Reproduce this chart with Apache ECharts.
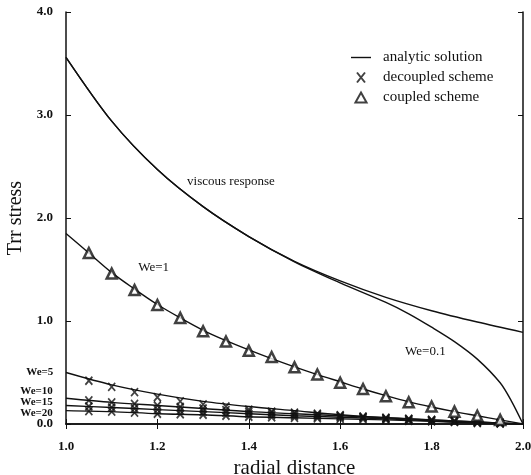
<!DOCTYPE html>
<html>
<head>
	<meta charset="utf-8">
	<script src="https://cdn.jsdelivr.net/npm/echarts@6/dist/echarts.min.js"></script>
	<title>Trr stress</title>
</head>
<body>

<style>
	html, body { margin: 0; padding: 0; background: #fff; }
	#main { width: 531px; height: 475px; }
</style>

<div id="main"></div>

<script type="text/javascript">
    // radial positions
    var rCoarse = [1.0, 1.1, 1.2, 1.3, 1.4, 1.5, 1.6, 1.7, 1.8, 1.9, 2.0];
    var rFine = [1.0, 1.05, 1.1, 1.15, 1.2, 1.25, 1.3, 1.35, 1.4, 1.45, 1.5,
                 1.55, 1.6, 1.65, 1.7, 1.75, 1.8, 1.85, 1.9, 1.95, 2.0];
    var rMarks = rFine.slice(1, 20);
    var rWe01 = [1.0, 1.1, 1.2, 1.3, 1.4, 1.5, 1.6, 1.7, 1.75, 1.8, 1.85, 1.9, 1.95, 1.975, 2.0];

    // analytic solution curves
    var viscous = [3.56, 2.94, 2.47, 2.11, 1.82, 1.58, 1.39, 1.23, 1.10, 0.99, 0.89];
    var we01 = [3.56, 2.94, 2.47, 2.11, 1.82, 1.575, 1.37, 1.18, 1.07, 0.94, 0.80, 0.63, 0.40, 0.22, 0];
    var we1 = [1.85, 1.66, 1.47, 1.31, 1.16, 1.03, 0.91, 0.81, 0.72, 0.635, 0.555,
               0.48, 0.41, 0.34, 0.275, 0.215, 0.165, 0.12, 0.08, 0.04, 0];
    var we5 = [0.50, 0.38, 0.29, 0.22, 0.17, 0.13, 0.09, 0.06, 0.04, 0.02, 0];
    var we10 = [0.25, 0.21, 0.18, 0.15, 0.12, 0.10, 0.08, 0.06, 0.04, 0.02, 0];
    var we15 = [0.18, 0.16, 0.14, 0.12, 0.10, 0.08, 0.065, 0.05, 0.03, 0.015, 0];
    var we20 = [0.13, 0.12, 0.10, 0.09, 0.07, 0.06, 0.05, 0.04, 0.025, 0.01, 0];

    // coupled scheme (We=1)
    var coupled1 = [1.66, 1.46, 1.30, 1.155, 1.03, 0.90, 0.80, 0.71, 0.65, 0.55,
                    0.48, 0.40, 0.34, 0.27, 0.21, 0.17, 0.12, 0.08, 0.04];
    // decoupled scheme
    var dec5 = [0.42, 0.36, 0.31, 0.26, 0.22, 0.19, 0.17, 0.14, 0.12, 0.11,
                0.10, 0.085, 0.07, 0.06, 0.05, 0.04, 0.03, 0.02, 0.01];
    var dec10 = [0.23, 0.21, 0.195, 0.18, 0.165, 0.15, 0.135, 0.12, 0.11, 0.10,
                 0.09, 0.08, 0.07, 0.06, 0.05, 0.04, 0.03, 0.02, 0.01];
    var dec15 = [0.17, 0.16, 0.15, 0.14, 0.13, 0.12, 0.11, 0.10, 0.09, 0.08,
                 0.07, 0.065, 0.06, 0.05, 0.04, 0.03, 0.02, 0.015, 0.01];
    var dec20 = [0.125, 0.12, 0.11, 0.10, 0.095, 0.09, 0.08, 0.07, 0.065, 0.06,
                 0.055, 0.05, 0.045, 0.04, 0.03, 0.025, 0.02, 0.01, 0.005];

    // annotations [text, r, value, font size, weight]
    var notes = [
        ['viscous response', 1.265, 2.35, 13, 'normal'],
        ['We=1', 1.158, 1.52, 13, 'normal'],
        ['We=0.1', 1.742, 0.70, 13, 'normal'],
        ['We=5', 0.913, 0.505, 11, 'bold'],
        ['We=10', 0.90, 0.315, 11, 'bold'],
        ['We=15', 0.90, 0.215, 11, 'bold'],
        ['We=20', 0.90, 0.11, 11, 'bold']
    ];

    var serif = '"Liberation Serif", "DejaVu Serif", serif';
    var ink = '#111';

    function pairs(xs, ys) {
        return ys.map(function (v, i) { return [xs[i], v]; });
    }

    function analytic(xs, ys) {
        return {
            name: 'analytic solution', type: 'line', data: pairs(xs, ys),
            smooth: 0.3, symbol: 'none', lineStyle: { color: ink, width: 1.4 },
            itemStyle: { color: ink }, z: 2
        };
    }

    var decData = [].concat(pairs(rMarks, dec5), pairs(rMarks, dec10),
                            pairs(rMarks, dec15), pairs(rMarks, dec20));

    var myChart = echarts.init(document.getElementById('main'));

    var option = {
        animation: false,
        grid: { left: 66, right: 8, top: 12, bottom: 51, outerBoundsMode: 'none', containLabel: false },
        legend: {
            orient: 'vertical', left: 346, top: 45, itemGap: 5,
            itemWidth: 20, itemHeight: 10, symbolKeepAspect: true,
            textStyle: { fontFamily: serif, fontSize: 15, color: ink, padding: [0, 0, 0, 7] },
            data: [
                { name: 'analytic solution', icon: 'path://M0,0L20,0L20,1.4L0,1.4Z' },
                { name: 'decoupled scheme' },
                { name: 'coupled scheme', icon: 'path://M5,0L10,9L0,9Z' }
            ]
        },
        xAxis: [{
            type: 'value', min: 1.0, max: 2.0, interval: 0.2,
            name: 'radial distance', nameLocation: 'middle', nameGap: 31,
            nameTextStyle: { fontFamily: serif, fontSize: 21, color: ink },
            axisLine: { lineStyle: { color: ink, width: 1.5 } },
            axisTick: { inside: true, length: 5, lineStyle: { color: ink } },
            axisLabel: { fontFamily: serif, fontSize: 13, fontWeight: 'bold', color: ink, margin: 16,
                formatter: function (v) { return v.toFixed(1); } },
            splitLine: { show: false }
        }, {
            type: 'value', position: 'top', min: 1.0, max: 2.0, interval: 0.2,
            axisLine: { lineStyle: { color: ink, width: 1.5 } },
            axisTick: { inside: true, length: 5, lineStyle: { color: ink } },
            axisLabel: { show: false }, splitLine: { show: false }
        }],
        yAxis: [{
            type: 'value', min: 0, max: 4, interval: 1,
            name: 'Trr stress', nameLocation: 'middle', nameGap: 37,
            nameTextStyle: { fontFamily: serif, fontSize: 20, color: ink },
            axisLine: { show: true, lineStyle: { color: ink, width: 1.5 } },
            axisTick: { show: true, inside: true, length: 5, lineStyle: { color: ink } },
            axisLabel: { fontFamily: serif, fontSize: 13, fontWeight: 'bold', color: ink, margin: 13,
                formatter: function (v) { return v.toFixed(1); } },
            splitLine: { show: false }
        }, {
            type: 'value', position: 'right', min: 0, max: 4, interval: 1,
            axisLine: { show: true, lineStyle: { color: ink, width: 1.5 } },
            axisTick: { show: true, inside: true, length: 5, lineStyle: { color: ink } },
            axisLabel: { show: false }, splitLine: { show: false }
        }],
        series: [
            analytic(rCoarse, viscous),
            analytic(rWe01, we01),
            analytic(rFine, we1),
            analytic(rCoarse, we5),
            analytic(rCoarse, we10),
            analytic(rCoarse, we15),
            analytic(rCoarse, we20),
            {
                name: 'decoupled scheme', type: 'scatter', data: decData,
                symbol: 'path://M0,0L8,10M8,0L0,10', symbolSize: [7, 8],
                itemStyle: { color: 'none', borderColor: ink, borderWidth: 1.8 }, z: 3
            },
            {
                name: 'coupled scheme', type: 'scatter', data: pairs(rMarks, coupled1),
                symbol: 'triangle', symbolSize: 10,
                itemStyle: { color: '#fff', borderColor: ink, borderWidth: 2.5 }, z: 4
            }
        ]
    };

    myChart.setOption(option);

    // 注释文字按数据坐标定位
    var graphics = notes.map(function (n) {
        var p = myChart.convertToPixel({ gridIndex: 0 }, [n[1], n[2]]);
        return {
            type: 'text', x: p[0], y: p[1],
            style: { text: n[0], fill: ink, font: n[4] + ' ' + n[3] + 'px ' + serif, textVerticalAlign: 'middle' }
        };
    });
    myChart.setOption({ graphic: graphics });

</script>
</body>
</html>
